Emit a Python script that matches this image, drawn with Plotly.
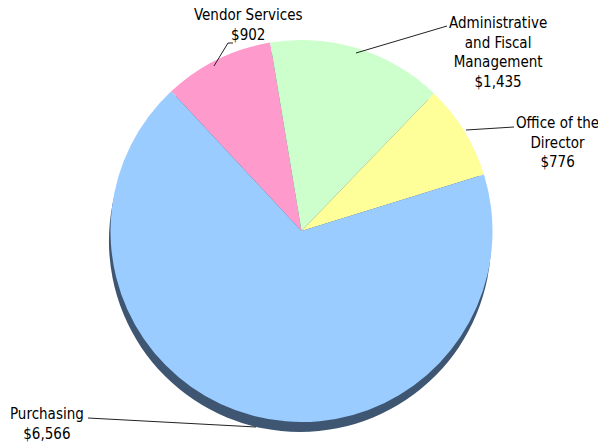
import plotly.graph_objects as go

# Budget by division (thousands of dollars), clockwise from the upper left
divisions = ["Vendor Services", "Administrative and Fiscal Management",
             "Office of the Director", "Purchasing"]
label_text = ["Vendor Services", "Administrative<br>and Fiscal<br>Management",
              "Office of the<br>Director", "Purchasing"]
amounts = [902, 1435, 776, 6566]
slice_colors = ["#FF9ACC", "#CCFFCC", "#FFFF99", "#9ACCFF"]

W, H = 598, 444
FONT = "DejaVu Sans Condensed, Liberation Sans Narrow, sans-serif"


def px(x):
    return x / W


def py(y):
    return 1 - y / H


def dom(cx, cy, r):
    return dict(x=[px(cx - r), px(cx + r)], y=[py(cy + r), py(cy - r)])


fig = go.Figure()

# dark rim underneath the pie for a raised look
fig.add_trace(go.Pie(
    values=[1], marker=dict(colors=["#3E5672"], line=dict(width=0)),
    domain=dom(300, 241, 191), textinfo="none", hoverinfo="skip",
    showlegend=False, sort=False,
))

fig.add_trace(go.Pie(
    labels=divisions, values=amounts,
    marker=dict(colors=slice_colors, line=dict(width=0)),
    domain=dom(301.5, 231, 191), textinfo="none", hoverinfo="label+value",
    showlegend=False, sort=False, direction="clockwise", rotation=-43,
))

# label placement (pixel centres) and leader lines
label_pos = [(248, 25), (498, 52), (557, 142), (47, 424)]
leaders = [
    [(214, 66), (228, 43), (233, 43)],
    [(356, 53), (447, 26)],
    [(466, 130), (514, 127)],
    [(88, 418), (256, 427)],
]

for name, val, (x, y) in zip(label_text, amounts, label_pos):
    fig.add_annotation(
        x=px(x), y=py(y), xref="paper", yref="paper",
        text=f"{name}<br>${val:,}", showarrow=False,
        font=dict(family=FONT, size=15, color="#000000"),
        align="center", xanchor="center", yanchor="middle",
    )

for pts in leaders:
    for (x0, y0), (x1, y1) in zip(pts[:-1], pts[1:]):
        fig.add_shape(type="line", xref="paper", yref="paper",
                      x0=px(x0), y0=py(y0), x1=px(x1), y1=py(y1),
                      line=dict(color="#222222", width=1))

fig.update_layout(
    width=W, height=H, margin=dict(l=0, r=0, t=0, b=0),
    paper_bgcolor="white", plot_bgcolor="white",
)

fig.write_html("out.html")
